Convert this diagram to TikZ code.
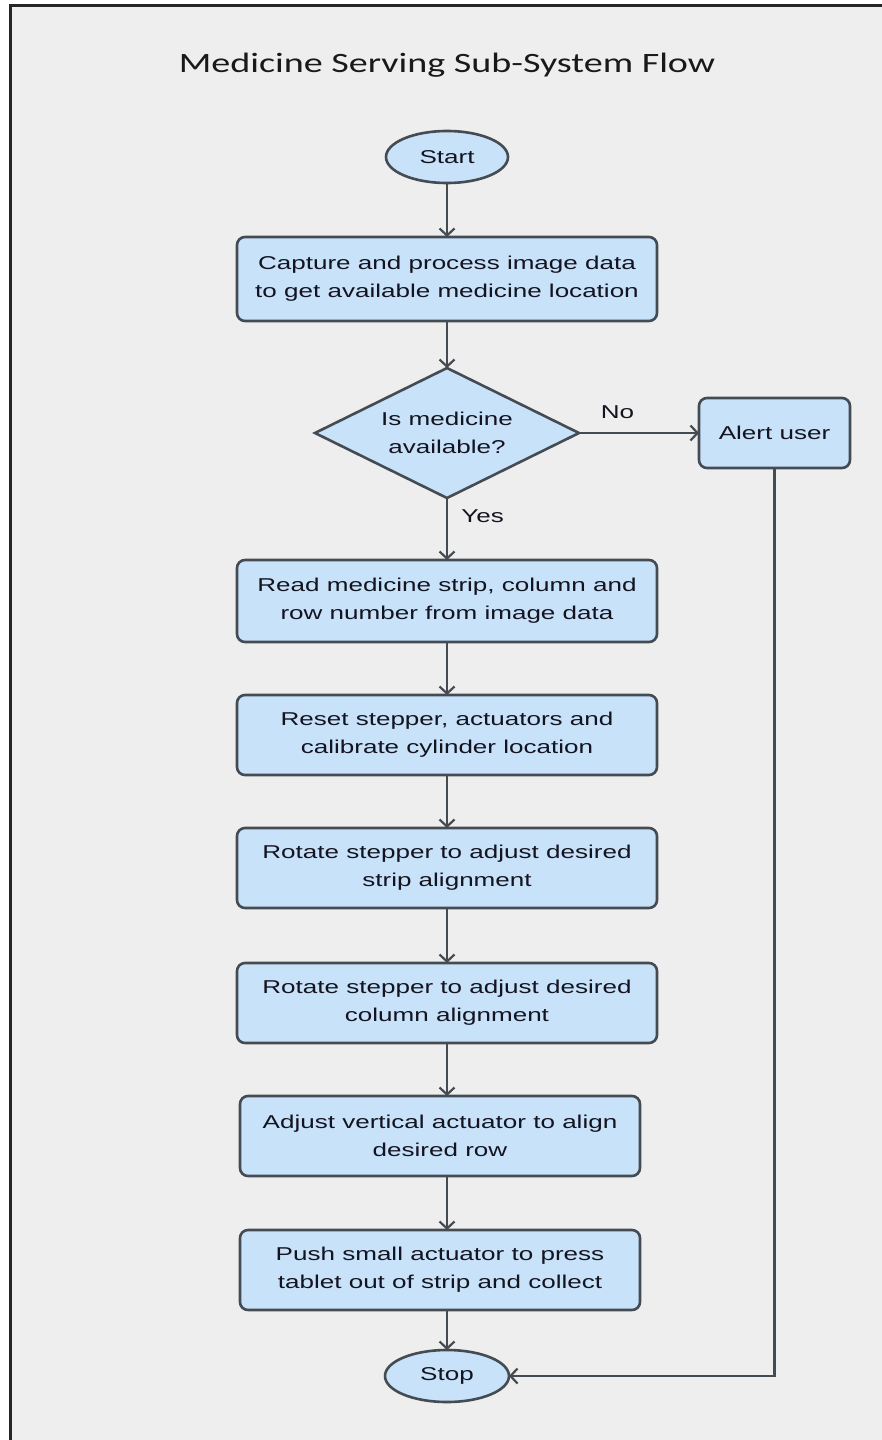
\documentclass[tikz,border=0pt]{standalone}
\usepackage{fontspec}
\setmainfont{Liberation Sans}[FakeStretch=1.4]
\newfontfamily\titlefont{Carlito}[FakeStretch=1.36]
\usetikzlibrary{shapes.geometric, arrows.meta, positioning}
\usepackage{xcolor}
\definecolor{boxfill}{HTML}{C8E2FA}
\definecolor{boxline}{HTML}{454B52}
\definecolor{paper}{HTML}{EEEEEE}
\definecolor{ink}{HTML}{141420}

\begin{document}
\begin{tikzpicture}[
    x=1pt, y=-1pt,
    node distance=54pt,
    box/.style={rectangle, draw=boxline, fill=boxfill, line width=2.6pt, outer sep=0pt, rounded corners=8pt, minimum width=420pt, minimum height=80pt, align=center, text=ink, font=\fontsize{18.6}{28}\selectfont},
    term/.style={ellipse, draw=boxline, fill=boxfill, line width=2.6pt, outer sep=0pt, minimum width=122pt, minimum height=52pt, inner sep=0pt, text=ink, font=\fontsize{18.6}{28}\selectfont},
    decision/.style={diamond, aspect=2, draw=boxline, fill=boxfill, line width=2.6pt, outer sep=0pt, minimum width=264pt, minimum height=130pt, inner sep=0pt, align=center, text=ink, font=\fontsize{18.6}{28}\selectfont},
    lbl/.style={text=ink, font=\fontsize{18.6}{28}\selectfont},
    arrow/.style={-{Straight Barb[length=7pt,width=15pt]}, line width=2.2pt, draw=boxline}
]
    \useasboundingbox (0,0) rectangle (881,1440);
    \fill[white] (0,0) rectangle (881,1440);
    \draw[line width=3pt, draw=black!85, fill=paper] (10,5) rectangle (960,1520);

    \node[anchor=base, text=black!90, font=\titlefont\fontsize{28}{34}\selectfont] (title) at (447,72) {Medicine Serving Sub-System Flow};

    \node[term] (start) at (447,157) {Start};
    \node[box, minimum height=84pt, below=of start] (capture) {Capture and process image data\\to get available medicine location};
    \node[decision, below=47pt of capture] (decide) {Is medicine\\available?};
    \node[box, minimum width=151pt, minimum height=70pt, right=120pt of decide] (alert) {Alert user};
    \node[box, minimum height=82pt, below=62pt of decide] (read) {Read medicine strip, column and\\row number from image data};
    \node[box, below=53pt of read] (reset) {Reset stepper, actuators and\\calibrate cylinder location};
    \node[box, below=53pt of reset] (strip) {Rotate stepper to adjust desired\\strip alignment};
    \node[box, below=55pt of strip] (column) {Rotate stepper to adjust desired\\column alignment};
    \node[box, minimum width=400pt, below=53pt of column, xshift=-7pt] (adjust) {Adjust vertical actuator to align\\desired row};
    \node[box, minimum width=400pt, below=of adjust] (push) {Push small actuator to press\\tablet out of strip and collect};
    \node[term, minimum width=124pt, below=40pt of push, xshift=7pt] (stop) {Stop};

    \draw[arrow] (start) -- (capture);
    \draw[arrow] (capture) -- (decide);
    \draw[arrow] (decide) -- node[lbl, right=10pt, pos=0.29] (yes) {Yes} (read);
    \draw[arrow] (decide) -- node[lbl, above=10pt, pos=0.32] (no) {No} (alert);
    \draw[arrow] (alert) |- (stop);
    \draw[arrow] (read) -- (reset);
    \draw[arrow] (reset) -- (strip);
    \draw[arrow] (strip) -- (column);
    \draw[arrow] (column) -- (column |- adjust.north);
    \draw[arrow] (column |- adjust.south) -- (column |- push.north);
    \draw[arrow] (column |- push.south) -- (stop);
\end{tikzpicture}
\end{document}
